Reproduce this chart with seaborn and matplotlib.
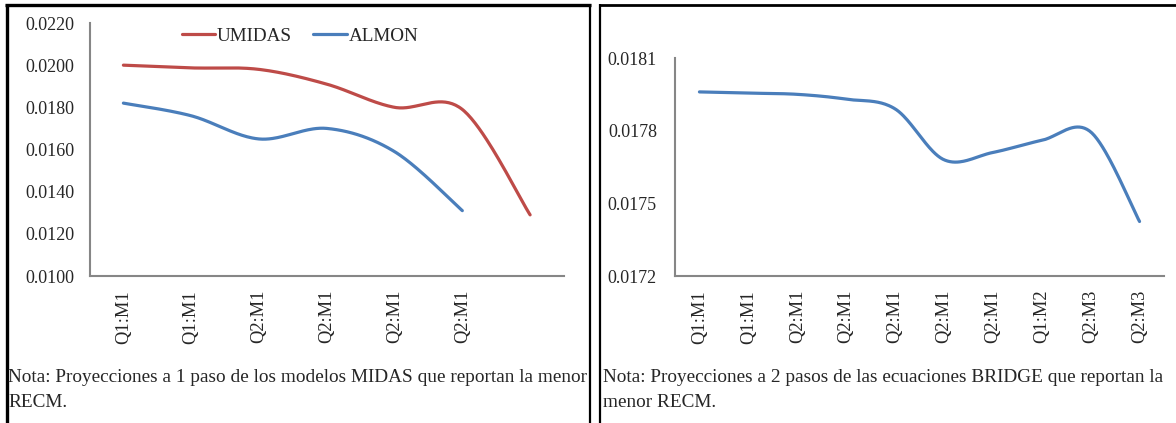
import numpy as np
import pandas as pd
import matplotlib
matplotlib.use("Agg")
import matplotlib.pyplot as plt
from matplotlib.lines import Line2D
from matplotlib.ticker import FixedLocator, FormatStrFormatter
import seaborn as sns

# ---- data -------------------------------------------------------------
midas_labels = ["Q1:M1", "Q1:M1", "Q2:M1", "Q2:M1", "Q2:M1", "Q2:M1", ""]
umidas = [0.0200, 0.01987, 0.0198, 0.0191, 0.0180, 0.0179, 0.0129]
almon = [0.0182, 0.0176, 0.0165, 0.0170, 0.0159, 0.0131]

bridge_labels = ["Q1:M1", "Q1:M1", "Q2:M1", "Q2:M1", "Q2:M1",
                 "Q2:M1", "Q2:M1", "Q1:M2", "Q2:M3", "Q2:M3"]
bridge = [0.01796, 0.017955, 0.01795, 0.01793, 0.01789,
          0.01768, 0.01771, 0.01776, 0.017795, 0.017425]

midas_yticks = [0.0100, 0.0120, 0.0140, 0.0160, 0.0180, 0.0200, 0.0220]
bridge_yticks = [0.0172, 0.0175, 0.0178, 0.0181]

note_left = ["Nota: Proyecciones a 1 paso de los modelos MIDAS que reportan la menor",
             "RECM."]
note_right = ["Nota: Proyecciones a 2 pasos de las ecuaciones BRIDGE que reportan la",
              "menor RECM."]

RED = "#BE4B48"
BLUE = "#4A7EBB"
SPINE = "#868686"
TEXT = "#262626"

sns.set_theme(style="white")
plt.rcParams["font.family"] = ["Liberation Serif", "DejaVu Serif"]
plt.rcParams["text.color"] = TEXT


def smooth(values, steps=40):
    """Catmull-Rom curve through the points (same idea as a smoothed Excel line)."""
    y = np.asarray(values, float)
    x = np.arange(len(y), dtype=float)
    pts = np.column_stack([x, y])
    padded = np.vstack([pts[0], pts, pts[-1]])
    out = []
    t = np.linspace(0, 1, steps, endpoint=False)[:, None]
    for i in range(len(pts) - 1):
        p0, p1, p2, p3 = padded[i], padded[i + 1], padded[i + 2], padded[i + 3]
        c1 = p1 + (p2 - p0) / 6.0
        c2 = p2 - (p3 - p1) / 6.0
        seg = ((1 - t) ** 3) * p1 + 3 * ((1 - t) ** 2) * t * c1 \
            + 3 * (1 - t) * t ** 2 * c2 + t ** 3 * p2
        out.append(seg)
    out.append(pts[-1][None, :])
    curve = np.vstack(out)
    return curve[:, 0], curve[:, 1]


W, H = 1176, 423
fig = plt.figure(figsize=(W / 100, H / 100), dpi=100)


def px_axes(x0, x1, ytop, ybot):
    return fig.add_axes([x0 / W, 1 - ybot / H, (x1 - x0) / W, (ybot - ytop) / H])


def style_axes(ax, labels, yticks, fmt, ytick_len, ypad):
    for s in ["top", "right"]:
        ax.spines[s].set_visible(False)
    for s in ["left", "bottom"]:
        ax.spines[s].set_color(SPINE)
        ax.spines[s].set_linewidth(1.5)
    ax.set_xlim(-0.5, len(labels) - 0.5)
    ax.set_ylim(yticks[0], yticks[-1])
    ax.yaxis.set_major_locator(FixedLocator(yticks))
    ax.yaxis.set_major_formatter(FormatStrFormatter(fmt))
    ax.set_xticks(range(len(labels)))
    ax.set_xticklabels(labels, rotation=90, va="top", ha="center")
    ax.tick_params(axis="x", length=0, pad=10, labelsize=13.3, labelcolor=TEXT)
    ax.tick_params(axis="y", length=ytick_len, width=1.5, color=SPINE,
                   direction="out", pad=ypad, labelsize=13, labelcolor=TEXT)
    ax.set_xlabel("")
    ax.set_ylabel("")
    ax.grid(False)
    ax.patch.set_alpha(0)


# ---- left panel: MIDAS models -----------------------------------------
ax1 = px_axes(89.5, 564, 23, 276)
for name, vals, col in [("UMIDAS", umidas, RED), ("ALMON", almon, BLUE)]:
    sx, sy = smooth(vals)
    sns.lineplot(x=sx, y=sy, ax=ax1, color=col, linewidth=2.3, label=name,
                 sort=False, estimator=None)
style_axes(ax1, midas_labels, midas_yticks, "%.4f", 0, 11)
ax1.legend(loc="center", bbox_to_anchor=(300 / W, 1 - 36 / H),
           bbox_transform=fig.transFigure, ncol=2, frameon=False,
           fontsize=13.8, handlelength=1.75, handletextpad=0.1,
           columnspacing=1.1, labelcolor=TEXT)

# ---- right panel: BRIDGE equations ------------------------------------
ax2 = px_axes(675, 1164, 58, 276)
sx, sy = smooth(bridge)
sns.lineplot(x=sx, y=sy, ax=ax2, color=BLUE, linewidth=2.3,
             sort=False, estimator=None, legend=False)
style_axes(ax2, bridge_labels, bridge_yticks, "%.4f", 4, 9)

# ---- notes under each chart -------------------------------------------
for i, line in enumerate(note_left):
    fig.text(8 / W, 1 - (377 + 25 * i) / H, line, fontsize=13.85, va="center", ha="left")
for i, line in enumerate(note_right):
    fig.text(603 / W, 1 - (377 + 25 * i) / H, line, fontsize=13.85, va="center", ha="left")

# ---- panel frames -----------------------------------------------------
def frame_line(x, y, lw):
    fig.add_artist(Line2D(np.array(x) / W, 1 - np.array(y) / H, color="black",
                          linewidth=lw, solid_capstyle="butt"))

frame_line([6.5, 6.5], [4, H + 5], 2.4)
frame_line([5, 591], [5.5, 5.5], 2.4)
frame_line([590, 590], [4, H + 5], 1.6)
frame_line([600, 600], [4, H + 5], 1.6)
frame_line([599, W + 5], [5, 5], 2.0)

fig.savefig("out.png", dpi=100)
